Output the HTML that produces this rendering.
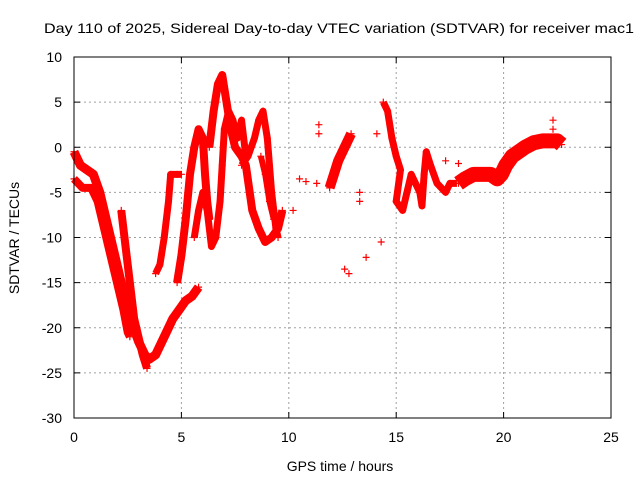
<!DOCTYPE html>
<html><head><meta charset="utf-8"><style>
body{margin:0;background:#fff}
svg{display:block;font-family:"Liberation Sans",sans-serif}
</style></head><body>
<svg id="chart" width="640" height="480" viewBox="0 0 640 480">
<text x="339" y="33" font-size="14" text-anchor="middle" textLength="590" lengthAdjust="spacingAndGlyphs">Day 110 of 2025, Sidereal Day-to-day VTEC variation (SDTVAR) for receiver mac1</text>
<text x="340" y="471" font-size="14" text-anchor="middle">GPS time / hours</text>
<text transform="translate(19,238) rotate(-90)" font-size="14" text-anchor="middle">SDTVAR / TECUs</text>
<g id="grid"></g>
<g id="ticks"></g>
<g id="marks"></g>
<rect x="74" y="57" width="537" height="361" fill="none" stroke="#000"/>
</svg>
<script>
const xTicks=[0,5,10,15,20,25];
const yTicks=[10,5,0,-5,-10,-15,-20,-25,-30];
const trackA=[[0,-0.5],[0.3,-2],[0.6,-2.5],[0.9,-3],[1.2,-5],[1.5,-8],[1.8,-11],[2.1,-14],[2.4,-17],[2.7,-19.5],[3.0,-21.5],[3.3,-23],[3.5,-23.5],[3.8,-23],[4.0,-22],[4.3,-20.5],[4.6,-19],[4.9,-18],[5.2,-17],[5.5,-16.5],[5.8,-15.5]];
const trackB=[[0,-3.5],[0.4,-4.5],[0.8,-4.5],[1.1,-6],[1.4,-9],[1.7,-12],[2.0,-15],[2.3,-18],[2.5,-20.5],[2.6,-21]];
const trackC=[[2.2,-7],[2.4,-11],[2.6,-15],[2.8,-19],[3.0,-21],[3.2,-23],[3.4,-24.5]];
const trackD=[[3.8,-14],[4.0,-13],[4.2,-10],[4.4,-6],[4.5,-3],[4.8,-3],[5.0,-3]];
const trackE=[[4.8,-15],[5.0,-12],[5.2,-8],[5.4,-3],[5.6,0],[5.8,2],[6.0,1],[6.1,-3],[6.2,-6],[6.3,-8]];
const trackF=[[5.6,-10],[5.8,-7],[6.0,-5],[6.2,-7],[6.4,-11],[6.6,-10],[6.8,-6],[6.9,-2],[7.0,2],[7.2,4],[7.4,3],[7.6,1],[7.8,3],[8.0,-1]];
const trackG=[[6.3,0],[6.5,4],[6.7,7],[6.9,8],[7.1,5],[7.3,2],[7.5,0],[7.8,-1],[8.0,-2],[8.3,-7],[8.6,-9],[8.9,-10.5],[9.2,-10],[9.5,-9],[9.7,-7]];
const trackH=[[7.8,-2],[8.1,-1],[8.4,1],[8.6,3],[8.8,4],[9.0,1],[9.1,-2],[9.2,-5],[9.3,-7],[9.4,-9],[9.5,-10]];
const trackI=[[8.7,-1],[8.9,-3],[9.1,-6],[9.3,-8]];
const trackK=[[11.9,-4.5],[12.1,-3],[12.3,-1.5],[12.5,-0.5],[12.7,0.5],[12.9,1.5]];
const trackJ1=[[14.4,5],[14.6,4],[14.8,1],[15.0,-1],[15.2,-2.5],[15.0,-6],[15.3,-7],[15.5,-5],[15.7,-3],[15.9,-4],[16.1,-5],[16.2,-6.5],[16.3,-3],[16.4,-0.5],[16.6,-2],[16.9,-4],[17.3,-5],[17.5,-4],[17.8,-4]];
const trackJ2=[[17.9,-4],[18.2,-3.5],[18.6,-3],[19.0,-3],[19.4,-3],[19.7,-3.5],[19.9,-3],[20.1,-2],[20.4,-1],[20.7,-0.5],[21.0,0],[21.4,0.5],[21.8,0.7],[22.2,0.7],[22.5,0.7],[22.7,0.3]];
const isolated=[[10.2,-7],[10.5,-3.5],[10.8,-3.8],[11.3,-4],[11.4,2.5],[11.4,1.5],[13.3,-5],[13.3,-6],[12.6,-13.5],[12.8,-14],[13.6,-12.2],[14.3,-10.5],[14.1,1.5],[17.3,-1.5],[17.9,-1.8],[22.3,3],[22.3,2]];
const tracks=[trackA,trackB,trackC,trackD,trackE,trackF,trackG,trackH,trackI,trackK,trackJ1,trackJ2];
const widths=[9,8,8,7,8,7,8,7,6,10,7,15];

const NS="http://www.w3.org/2000/svg";
const X=v=>74+v*537/25;
const Y=v=>57+(10-v)*361/40;
function mk(tag,attrs,parent){const e=document.createElementNS(NS,tag);for(const k in attrs)e.setAttribute(k,attrs[k]);parent.appendChild(e);return e;}
const grid=document.getElementById('grid'),ticks=document.getElementById('ticks'),marks=document.getElementById('marks');
xTicks.forEach(t=>{
  if(t>0&&t<25){const l=mk('line',{x1:X(t),x2:X(t),y1:57,y2:418,stroke:'#a0a0a0','stroke-dasharray':'2,3'},grid);
  
  }
  mk('line',{x1:X(t),x2:X(t),y1:418,y2:412,stroke:'#000'},ticks);
  mk('line',{x1:X(t),x2:X(t),y1:57,y2:63,stroke:'#000'},ticks);
  const tx=mk('text',{x:X(t),y:442,'font-size':14,'text-anchor':'middle'},ticks);tx.textContent=t;
  
  
});
yTicks.forEach(t=>{
  if(t<10&&t>-30){const l=mk('line',{x1:74,x2:611,y1:Y(t),y2:Y(t),stroke:'#a0a0a0','stroke-dasharray':'2,3'},grid);
  
  }
  mk('line',{x1:74,x2:80,y1:Y(t),y2:Y(t),stroke:'#000'},ticks);
  mk('line',{x1:611,x2:605,y1:Y(t),y2:Y(t),stroke:'#000'},ticks);
  const tx=mk('text',{x:62,y:Y(t)+5,'font-size':14,'text-anchor':'end'},ticks);tx.textContent=t;
  
  
});
function plus(x,y){return `M${X(x)-3.5},${Y(y)}h7M${X(x)},${Y(y)-3.5}v7`;}
tracks.forEach((tr,i)=>{
  const pl=mk('polyline',{points:tr.map(p=>X(p[0])+','+Y(p[1])).join(' '),fill:'none',stroke:'#f00','stroke-width':widths[i],'stroke-linejoin':'round','stroke-linecap':'butt'},marks);
  
  
  const p=mk('path',{d:tr.map(q=>plus(q[0],q[1])).join(''),stroke:'#f00','stroke-width':1.2,fill:'none'},marks);
  
  
});
const ip=mk('path',{d:isolated.map(q=>plus(q[0],q[1])).join(''),stroke:'#f00','stroke-width':1.2,fill:'none'},marks);


</script>
</body></html>
